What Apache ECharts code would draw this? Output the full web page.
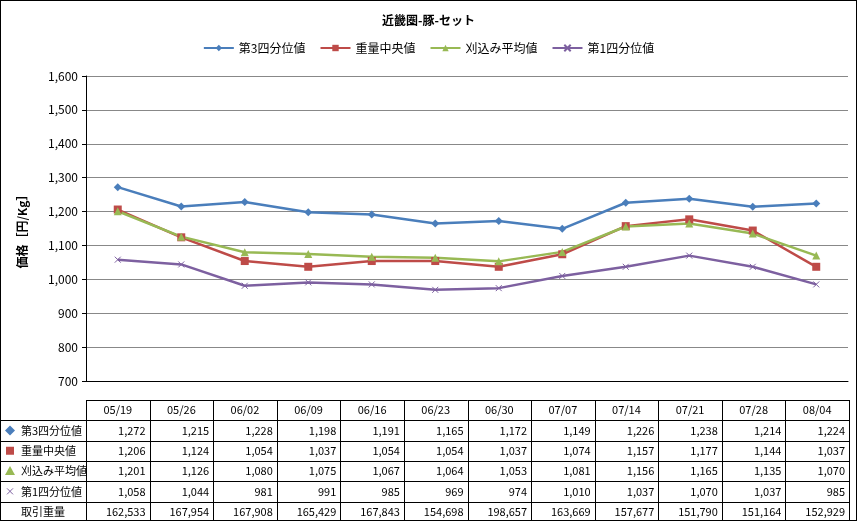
<!DOCTYPE html>
<html>
<head>
<meta charset="UTF-8">
<title>近畿圏-豚-セット</title>
<script src="https://cdn.jsdelivr.net/npm/echarts@6/dist/echarts.min.js"></script>
<style>
body { margin: 0; padding: 0; }
#container { width: 857px; height: 521px; box-sizing: border-box; border: 1px solid #000; }
</style>
</head>
<body>
<div id="container"></div>
<script>
var weeks = ['05/19', '05/26', '06/02', '06/09', '06/16', '06/23', '06/30', '07/07', '07/14', '07/21', '07/28', '08/04'];
var q3 = [1272, 1215, 1228, 1198, 1191, 1165, 1172, 1149, 1226, 1238, 1214, 1224];
var median = [1206, 1124, 1054, 1037, 1054, 1054, 1037, 1074, 1157, 1177, 1144, 1037];
var mean = [1201, 1126, 1080, 1075, 1067, 1064, 1053, 1081, 1156, 1165, 1135, 1070];
var q1 = [1058, 1044, 981, 991, 985, 969, 974, 1010, 1037, 1070, 1037, 985];
var volume = [162533, 167954, 167908, 165429, 167843, 154698, 198657, 163669, 157677, 151790, 151164, 152929];

var names = ['第3四分位値', '重量中央値', '刈込み平均値', '第1四分位値'];
var colors = ['#4a7ebb', '#be4b48', '#98b954', '#7d60a0'];
var symbols = ['diamond', 'rect', 'triangle', 'path://M0,0L10,10M10,0L0,10'];
var values = [q3, median, mean, q1];

var chart = echarts.init(document.getElementById('container'), null, { renderer: 'canvas' });

var font = '"Noto Sans CJK JP", sans-serif';
var series = values.map(function (d, i) {
    return {
        name: names[i], type: 'line', data: d,
        symbol: symbols[i], symbolSize: i === 3 ? 6 : 8,
        lineStyle: { color: colors[i], width: 2.5 },
        itemStyle: { color: colors[i], borderColor: colors[i], borderWidth: i === 3 ? 1 : 0 },
        emphasis: { disabled: true }
    };
});

chart.setOption({
    animation: false,
    textStyle: { fontFamily: font },
    title: { text: '近畿圏-豚-セット', left: 'center', top: 8,
        textStyle: { fontSize: 12, fontWeight: 'bold', color: '#000' } },
    legend: { top: 36, left: 'center', itemWidth: 30, itemHeight: 8, itemGap: 14,
        textStyle: { fontSize: 12, color: '#000' }, data: names },
    grid: { left: 85, right: 8, top: 75, bottom: 139 },
    xAxis: { type: 'category', data: weeks, boundaryGap: true,
        axisLine: { lineStyle: { color: '#000' } }, axisTick: { show: false }, axisLabel: { show: false } },
    yAxis: { type: 'value', min: 700, max: 1600, interval: 100,
        name: '価格［円/Kg］', nameLocation: 'middle', nameGap: 58, nameRotate: 90,
        nameTextStyle: { fontSize: 12, fontWeight: 'bold', color: '#000' },
        axisLine: { show: true, lineStyle: { color: '#000' } },
        axisTick: { show: true, length: 4, lineStyle: { color: '#000' } },
        axisLabel: { color: '#000', fontSize: 12, margin: 8,
            formatter: function (v) { return v.toLocaleString('en-US'); } },
        splitLine: { lineStyle: { color: '#888' } } },
    series: series
});

// data table under the chart
function drawTable() {
    var left = 85, right = 848, rowTop = 399, rowH = 20.3;
    var step = (right - left) / weeks.length;
    var els = [];
    var rows = values.concat([volume]);
    var labels = names.concat(['取引重量']);
    var nRows = rows.length + 1;
    var bottom = rowTop + nRows * rowH;
    for (var r = 0; r <= nRows; r++) {
        var y = Math.round(rowTop + r * rowH) + 0.5;
        els.push({ type: 'line', shape: { x1: r === 0 ? left : 0, y1: y, x2: right, y2: y },
            style: { stroke: '#000', lineWidth: 1 } });
    }
    for (var c = 0; c <= weeks.length; c++) {
        var x = Math.round(left + c * step) + 0.5;
        els.push({ type: 'line', shape: { x1: x, y1: rowTop, x2: x, y2: bottom },
            style: { stroke: '#000', lineWidth: 1 } });
    }
    weeks.forEach(function (w, c) {
        els.push({ type: 'text', x: left + (c + 0.5) * step, y: rowTop + rowH / 2,
            style: { text: w, fontSize: 11, fontFamily: font, fill: '#000', align: 'center', verticalAlign: 'middle' } });
    });
    rows.forEach(function (d, r) {
        var cy = rowTop + (r + 1.5) * rowH;
        els.push({ type: 'text', x: 20, y: cy,
            style: { text: labels[r], fontSize: 11, fontFamily: font, fill: '#000', align: 'left', verticalAlign: 'middle' } });
        d.forEach(function (v, c) {
            els.push({ type: 'text', x: left + (c + 1) * step - 4, y: cy,
                style: { text: v.toLocaleString('en-US'), fontSize: 11, fontFamily: font, fill: '#000', align: 'right', verticalAlign: 'middle' } });
        });
    });
    // legend keys in the table
    var y0 = rowTop + 1.5 * rowH;
    els.push({ type: 'polygon', shape: { points: [[9, y0 - 5], [14, y0], [9, y0 + 5], [4, y0]] }, style: { fill: colors[0] } });
    y0 += rowH;
    els.push({ type: 'rect', shape: { x: 5, y: y0 - 4, width: 8, height: 8 }, style: { fill: colors[1] } });
    y0 += rowH;
    els.push({ type: 'polygon', shape: { points: [[9, y0 - 5], [14, y0 + 4], [4, y0 + 4]] }, style: { fill: colors[2] } });
    y0 += rowH;
    els.push({ type: 'polyline', shape: { points: [[6, y0 - 3], [12, y0 + 3]] }, style: { stroke: colors[3], lineWidth: 1 } });
    els.push({ type: 'polyline', shape: { points: [[12, y0 - 3], [6, y0 + 3]] }, style: { stroke: colors[3], lineWidth: 1 } });
    chart.setOption({ graphic: { elements: els } });
}
drawTable();
</script>
</body>
</html>
